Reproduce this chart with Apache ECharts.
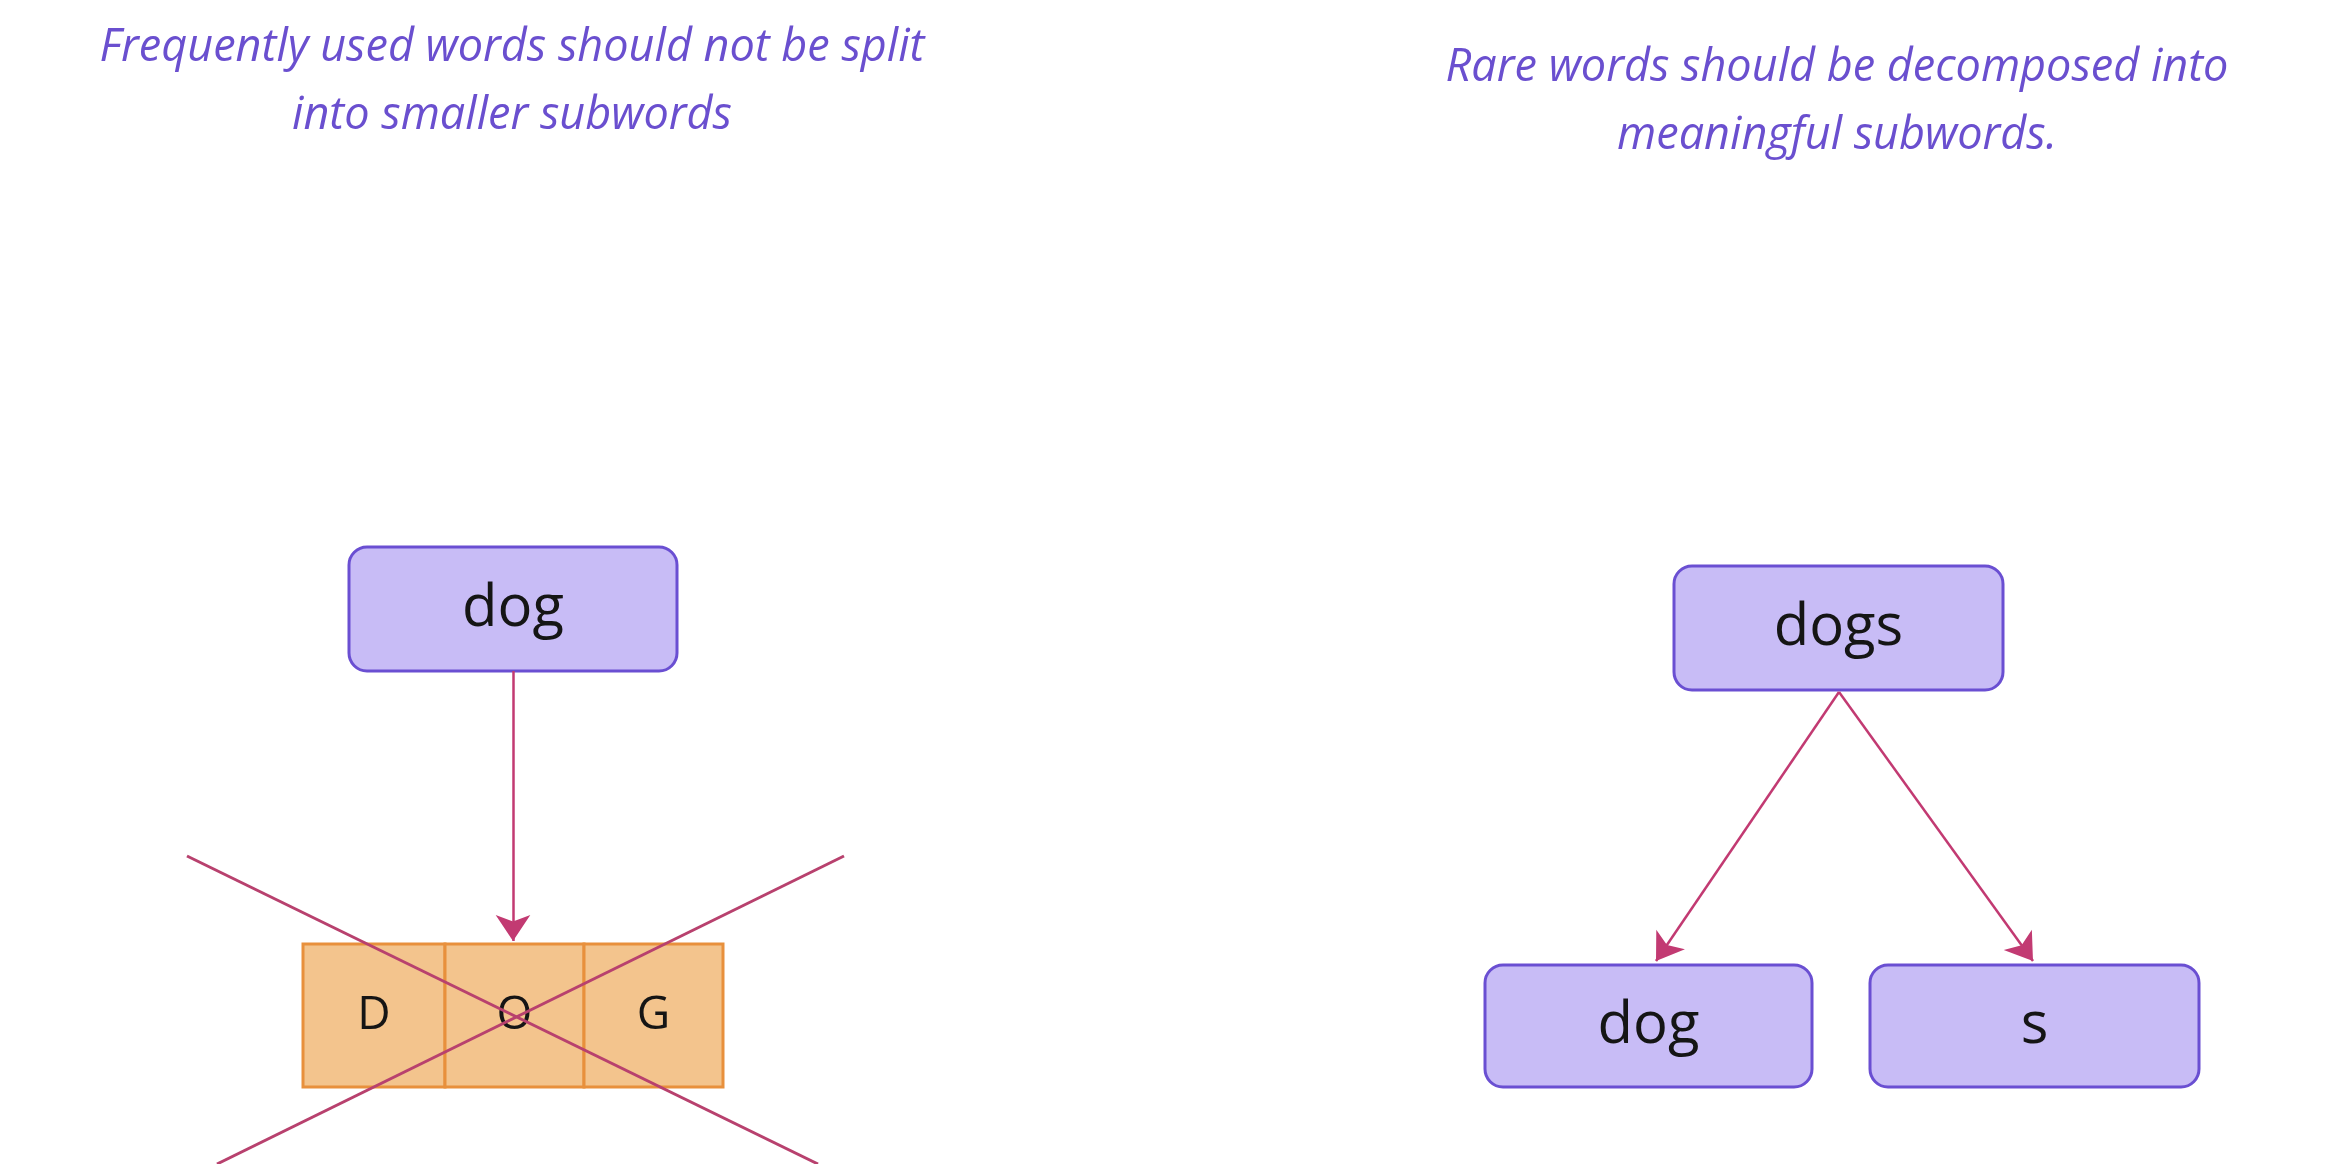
<!DOCTYPE html>
<html><head><meta charset="utf-8">
<script src="https://cdn.jsdelivr.net/npm/echarts@6/dist/echarts.min.js"></script>
<style>html,body{margin:0;padding:0;background:#fff}#c{width:2342px;height:1164px}</style>
</head><body><div id="c"></div>
<script>
// nodes: [label, x0, y0, x1, y1, kind]
const nodes = [
  ['dog', 349, 547, 677, 671, 'word'],
  ['D', 303, 944, 445, 1087, 'char'],
  ['O', 445, 944, 584, 1087, 'char'],
  ['G', 584, 944, 723, 1087, 'char'],
  ['dogs', 1674, 566, 2003, 690, 'word'],
  ['dog', 1485, 965, 1812, 1087, 'word'],
  ['s', 1870, 965, 2199, 1087, 'word']
];
const arrows = [
  [[513, 671], [513, 941]],
  [[1839, 692], [1656, 961]],
  [[1839, 692], [2033, 961]]
];
const crossLines = [
  [[187, 856], [818, 1164]],
  [[844, 856], [217, 1164]]
];
const titles = [
  ['Frequently used words should not be split\ninto smaller subwords', 512, 82],
  ['Rare words should be decomposed into\nmeaningful subwords.', 1837, 102]
];

const chart = echarts.init(document.getElementById('c'));
chart.setOption({
  animation: false,
  grid: {left: 0, right: 0, top: 0, bottom: 0},
  xAxis: {type: 'value', min: 0, max: 2342, show: false},
  yAxis: {type: 'value', min: 0, max: 1164, inverse: true, show: false},
  series: [
    {
      type: 'custom', z: 2,
      data: nodes.map(n => [n[1], n[2], n[3], n[4], n[0], n[5]]),
      renderItem: function (params, api) {
        const p0 = api.coord([api.value(0), api.value(1)]);
        const p1 = api.coord([api.value(2), api.value(3)]);
        const n = nodes[params.dataIndex];
        const word = n[5] === 'word';
        return {
          type: 'group',
          children: [
            {type: 'rect', shape: {x: p0[0], y: p0[1], width: p1[0] - p0[0], height: p1[1] - p0[1], r: word ? 18 : 0},
              style: {fill: word ? '#c8bcf6' : '#f3c48d', stroke: word ? '#6a4fd2' : '#e8903c', lineWidth: 3}},
            {type: 'text', style: {text: n[0], x: (p0[0] + p1[0]) / 2, y: (p0[1] + p1[1]) / 2,
              align: 'center', verticalAlign: 'middle', fill: '#151515',
              font: (word ? '58px' : '46px') + ' "Open Sans", "Noto Sans", sans-serif'}}
          ]
        };
      }
    },
    {
      type: 'lines', coordinateSystem: 'cartesian2d', z: 3,
      symbol: ['none', 'arrow'], symbolSize: 26,
      lineStyle: {color: '#c23a72', width: 2.5, opacity: 1},
      data: arrows.map(a => ({coords: a}))
    },
    {
      type: 'lines', coordinateSystem: 'cartesian2d', z: 4,
      lineStyle: {color: '#b8416e', width: 3, opacity: 1},
      data: crossLines.map(a => ({coords: a}))
    },
    {
      type: 'custom', z: 5,
      data: titles.map(t => [t[1], t[2]]),
      renderItem: function (params, api) {
        const p = api.coord([api.value(0), api.value(1)]);
        return {type: 'text', style: {text: titles[params.dataIndex][0], x: p[0], y: p[1],
          align: 'center', verticalAlign: 'middle', fill: '#6a4fcf', lineHeight: 68,
          font: 'italic 45px "Open Sans", "Noto Sans", sans-serif'}};
      }
    }
  ]
});
</script></body></html>
